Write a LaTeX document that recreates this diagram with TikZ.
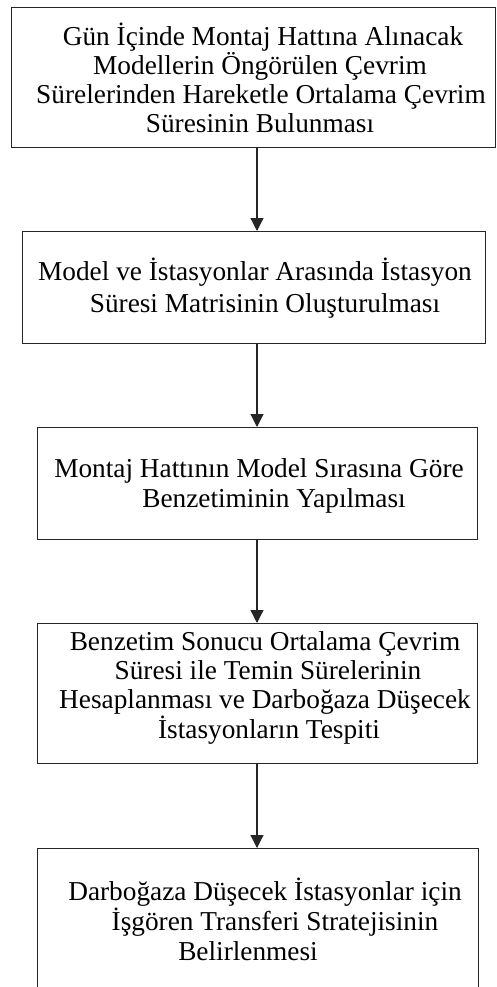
\documentclass[tikz,border=0pt]{standalone}
\usepackage{fontspec}
\setmainfont{Liberation Serif}
\usetikzlibrary{arrows.meta}

\tikzset{
  stepbox/.style={draw=black!85, line width=1.2pt, fill=none, inner sep=0pt, anchor=north west},
  steptext/.style={anchor=base, inner sep=0pt, font=\fontsize{27.3}{30}\selectfont},
  flow/.style={draw=black!85, line width=1.2pt, -{Triangle[width=13pt,length=13pt]}}
}

\begin{document}
\begin{tikzpicture}[x=1pt, y=-1pt]
  \path[use as bounding box, clip] (0,0) rectangle (496,987);
  \fill[white] (0,0) rectangle (496,987);

  % process boxes
  \node[stepbox, minimum width=484pt, minimum height=140pt] (b1) at (11,7) {};
  \node[stepbox, minimum width=463pt, minimum height=112pt] (b2) at (22,231) {};
  \node[stepbox, minimum width=440pt, minimum height=112pt] (b3) at (37,427) {};
  \node[stepbox, minimum width=440pt, minimum height=140pt] (b4) at (37,623) {};
  \node[stepbox, minimum width=441pt, minimum height=160pt] (b5) at (37,848) {};

  % box texts
  \node[steptext] (t11) at (263,46)  {Gün İçinde Montaj Hattına Alınacak};
  \node[steptext] (t12) at (260,75)  {Modellerin Öngörülen Çevrim};
  \node[steptext] (t13) at (261,104) {Sürelerinden Hareketle Ortalama Çevrim};
  \node[steptext] (t14) at (260,133) {Süresinin Bulunması};

  \node[steptext] (t21) at (255,280) {Model ve İstasyonlar Arasında İstasyon};
  \node[steptext] (t22) at (265,312) {Süresi Matrisinin Oluşturulması};

  \node[steptext] (t31) at (259,477) {Montaj Hattının Model Sırasına Göre};
  \node[steptext] (t32) at (274,507) {Benzetiminin Yapılması};

  \node[steptext] (t41) at (265,650) {Benzetim Sonucu Ortalama Çevrim};
  \node[steptext] (t42) at (268,679) {Süresi ile Temin Sürelerinin};
  \node[steptext] (t43) at (265,708) {Hesaplanması ve Darboğaza Düşecek};
  \node[steptext] (t44) at (269,738) {İstasyonların Tespiti};

  \node[steptext] (t51) at (265,900) {Darboğaza Düşecek İstasyonlar için};
  \node[steptext] (t52) at (275,930) {İşgören Transferi Stratejisinin};
  \node[steptext] (t53) at (248,960) {Belirlenmesi};

  % connectors
  \coordinate (a1) at (257,147);
  \draw[flow] (a1) -- (a1 |- b2.north);
  \draw[flow] (a1 |- b2.south) -- (a1 |- b3.north);
  \draw[flow] (a1 |- b3.south) -- (a1 |- b4.north);
  \draw[flow] (a1 |- b4.south) -- (a1 |- b5.north);
\end{tikzpicture}
\end{document}
